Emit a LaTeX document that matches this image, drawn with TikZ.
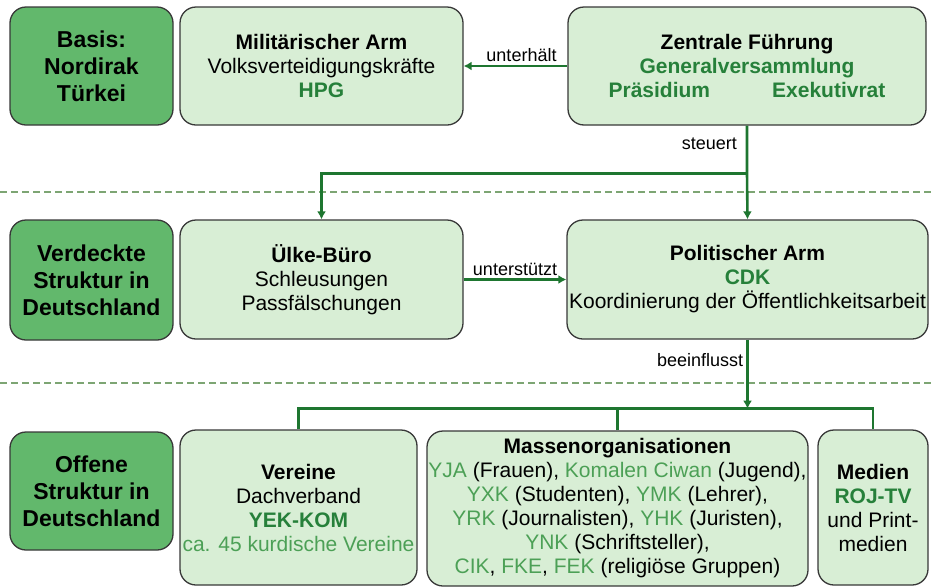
\documentclass[tikz,border=0pt]{standalone}
\usepackage{fontspec}
\setmainfont{Liberation Sans}
\usetikzlibrary{arrows.meta,calc}

\definecolor{ebene}{RGB}{98,184,108}
\definecolor{kasten}{RGB}{216,238,213}
\definecolor{gruen}{RGB}{38,128,58}
\definecolor{hellgruen}{RGB}{76,160,86}
\definecolor{linie}{RGB}{30,118,48}
\definecolor{trenner}{RGB}{125,165,115}

\newcommand{\gr}[1]{\textcolor{gruen}{\textbf{#1}}}
\newcommand{\hg}[1]{\textcolor{hellgruen}{#1}}

\tikzset{
	box/.style={draw=black!78, line width=1.3pt, rounded corners=16pt, fill=kasten,
		align=center, inner sep=0pt, font=\fontsize{21}{24}\selectfont},
	ebenebox/.style={box, fill=ebene, minimum width=163pt, minimum height=118pt,
		font=\fontsize{23}{27}\selectfont\bfseries},
	conn/.style={draw=linie, line width=2.6pt, -{Latex[length=8pt,width=9pt]}},
	plain/.style={draw=linie, line width=2.6pt},
	lbl/.style={font=\fontsize{18}{20}\selectfont, inner sep=3pt},
	trennlinie/.style={draw=trenner, line width=1.2pt, dash pattern=on 7pt off 4pt}
}

\begin{document}
\begin{tikzpicture}[x=1pt, y=-1pt]
	\useasboundingbox (0,0) rectangle (932,587);

	\draw
		[trennlinie] (0,192) -- (932,192);
	\draw
		[trennlinie] (0,383) -- (932,383);

	\node (basis) at (91.5, 66) [ebenebox] {Basis:\\Nordirak\\Türkei};
	\node (verdeckt) at (91.5, 280) [ebenebox, minimum height=120pt] {Verdeckte\\Struktur in\\Deutschland};
	\node (offen) at (91.5, 491) [ebenebox] {Offene\\Struktur in\\Deutschland};

	\node (militaer) at (321.5, 66) [box, minimum width=283pt, minimum height=118pt]
		{\textbf{Militärischer Arm}\\Volksverteidigungskräfte\\\gr{HPG}};
	\node (zentrale) at (747, 66) [box, minimum width=358pt, minimum height=118pt]
		{\textbf{Zentrale Führung}\\\gr{Generalversammlung}\\\gr{Präsidium}\hspace{62pt}\gr{Exekutivrat}};

	\node (uelke) at (321.5, 279.5) [box, minimum width=283pt, minimum height=119pt]
		{\textbf{Ülke-Büro}\\Schleusungen\\Passfälschungen};
	\node (politisch) at (747.5, 279.5) [box, minimum width=361pt, minimum height=119pt]
		{\textbf{Politischer Arm}\\\gr{CDK}\\Koordinierung der Öffentlichkeitsarbeit};

	\node (vereine) at (298.5, 507.5) [box, minimum width=237pt, minimum height=155pt]
		{\textbf{Vereine}\\Dachverband\\\gr{YEK-KOM}\\\hg{ca. 45 kurdische Vereine}};
	\node (massen) at (617.5, 508.5) [box, minimum width=381pt, minimum height=155pt]
		{\textbf{Massenorganisationen}\\
		\hg{YJA} (Frauen), \hg{Komalen Ciwan} (Jugend),\\
		\hg{YXK} (Studenten), \hg{YMK} (Lehrer),\\
		\hg{YRK} (Journalisten), \hg{YHK} (Juristen),\\
		\hg{YNK} (Schriftsteller),\\
		\hg{CIK}, \hg{FKE}, \hg{FEK} (religiöse Gruppen)};
	\node (medien) at (873, 507.5) [box, minimum width=110pt, minimum height=155pt]
		{\textbf{Medien}\\\gr{ROJ-TV}\\und Print-\\medien};

	\coordinate (steuer) at ($(zentrale.south)+(0,48)$);
	\coordinate (einfluss) at ($(politisch.south)+(0,69)$);

	\draw
		[conn] (zentrale.west) -- (militaer.east)
		node [midway, above, lbl, xshift=6pt] {unterhält};

	\draw
		[conn] (zentrale.south) -- (steuer) -- (politisch.north);
	\draw
		[conn] (steuer) -| (uelke.north);
	\path
		(zentrale.south) -- (steuer)
		node [pos=0.38, left, lbl, xshift=-7pt] {steuert};

	\draw
		[conn] (uelke.east) -- (politisch.west)
		node [midway, above, lbl] {unterstützt};

	\draw
		[plain] (vereine.north) |- (einfluss) -| (medien.north);
	\draw
		[plain] (massen.north) -- (massen.north |- einfluss);
	\draw
		[conn] (politisch.south) -- (einfluss)
		node [pos=0.3, left, lbl] {beeinflusst};
\end{tikzpicture}
\end{document}
